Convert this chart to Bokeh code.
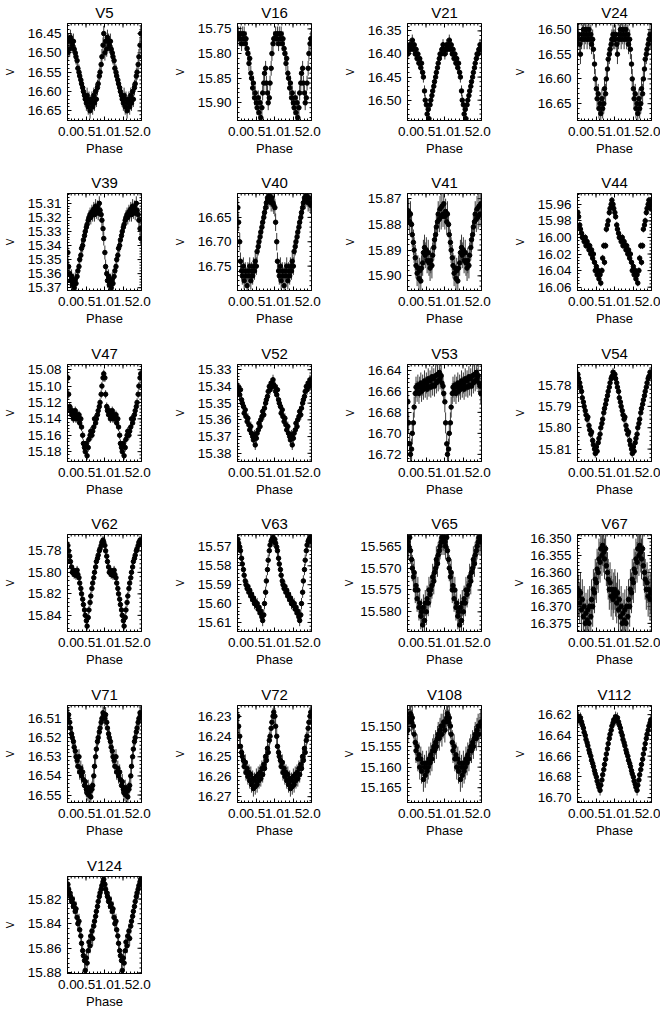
import math
from bokeh.plotting import figure
from bokeh.models import Range1d, FixedTicker, LinearAxis, PrintfTickFormatter
from bokeh.layouts import column, row
from bokeh.embed import file_html
from bokeh.resources import INLINE

# ---------------- data ----------------
phase = [0.01, 0.03, 0.06, 0.08, 0.11, 0.13, 0.16, 0.18, 0.21, 0.23,
         0.26, 0.28, 0.31, 0.33, 0.36, 0.38, 0.41, 0.43, 0.46, 0.48,
         0.51, 0.53, 0.56, 0.58, 0.61, 0.63, 0.66, 0.68, 0.71, 0.73,
         0.76, 0.78, 0.81, 0.83, 0.86, 0.88, 0.91, 0.93, 0.96, 0.98]

names = ["V5", "V16", "V21", "V24", "V39", "V40", "V41", "V44", "V47", "V52", "V53",
         "V54", "V62", "V63", "V65", "V67", "V71", "V72", "V108", "V112", "V124"]

mag_V5 = [16.50, 16.47, 16.49, 16.46, 16.47, 16.48, 16.47, 16.49, 16.50, 16.51,
          16.52, 16.54, 16.55, 16.56, 16.57, 16.58, 16.59, 16.60, 16.61, 16.62,
          16.63, 16.61, 16.64, 16.62, 16.65, 16.63, 16.62, 16.64, 16.61, 16.63,
          16.60, 16.62, 16.59, 16.58, 16.56, 16.55, 16.53, 16.51, 16.48, 16.45]
mag_V16 = [15.77, 15.76, 15.77, 15.76, 15.78, 15.76, 15.77, 15.76, 15.78, 15.77,
           15.79, 15.80, 15.82, 15.81, 15.84, 15.85, 15.87, 15.86, 15.89, 15.88,
           15.90, 15.91, 15.89, 15.92, 15.90, 15.93, 15.91, 15.88, 15.86, 15.84,
           15.83, 15.86, 15.88, 15.90, 15.89, 15.86, 15.83, 15.80, 15.78, 15.77]
mag_V21 = [16.40, 16.39, 16.38, 16.39, 16.38, 16.37, 16.39, 16.38, 16.40, 16.39,
           16.41, 16.40, 16.42, 16.41, 16.43, 16.42, 16.44, 16.45, 16.48, 16.50,
           16.51, 16.53, 16.52, 16.54, 16.51, 16.50, 16.49, 16.48, 16.47, 16.46,
           16.45, 16.44, 16.43, 16.42, 16.41, 16.40, 16.40, 16.39, 16.38, 16.39]
mag_V24 = [16.52, 16.51, 16.53, 16.55, 16.52, 16.51, 16.50, 16.52, 16.51, 16.50,
           16.52, 16.51, 16.50, 16.52, 16.51, 16.53, 16.52, 16.54, 16.57, 16.60,
           16.62, 16.64, 16.63, 16.66, 16.65, 16.67, 16.64, 16.66, 16.65, 16.62,
           16.63, 16.60, 16.58, 16.56, 16.55, 16.54, 16.53, 16.52, 16.51, 16.52]
mag_V39 = [15.345, 15.355, 15.360, 15.365, 15.362, 15.368, 15.365, 15.370, 15.364, 15.367,
           15.362, 15.358, 15.355, 15.350, 15.347, 15.342, 15.340, 15.336, 15.333, 15.330,
           15.327, 15.325, 15.322, 15.320, 15.318, 15.320, 15.316, 15.318, 15.314, 15.318,
           15.312, 15.316, 15.313, 15.317, 15.310, 15.315, 15.318, 15.322, 15.328, 15.335]
mag_V40 = [16.63, 16.66, 16.70, 16.74, 16.76, 16.77, 16.75, 16.78, 16.76, 16.77,
           16.79, 16.76, 16.77, 16.75, 16.78, 16.76, 16.77, 16.75, 16.76, 16.74,
           16.75, 16.72, 16.71, 16.70, 16.69, 16.68, 16.67, 16.66, 16.65, 16.64,
           16.63, 16.62, 16.61, 16.615, 16.605, 16.61, 16.62, 16.61, 16.62, 16.625]
mag_V41 = [15.877, 15.875, 15.879, 15.876, 15.880, 15.884, 15.887, 15.890, 15.893, 15.896,
           15.899, 15.897, 15.901, 15.898, 15.902, 15.897, 15.895, 15.891, 15.889, 15.892,
           15.890, 15.894, 15.891, 15.895, 15.897, 15.894, 15.896, 15.892, 15.889, 15.886,
           15.884, 15.881, 15.879, 15.876, 15.878, 15.874, 15.877, 15.873, 15.876, 15.872]
mag_V44 = [15.970, 15.975, 15.985, 15.990, 15.995, 16.000, 16.000, 16.005, 16.000, 16.010,
           16.005, 16.010, 16.015, 16.010, 16.020, 16.015, 16.025, 16.020, 16.030, 16.040,
           16.035, 16.045, 16.040, 16.050, 16.045, 16.055, 16.040, 16.025, 16.010, 16.030,
           16.010, 15.990, 15.985, 15.980, 15.970, 15.965, 15.960, 15.955, 15.960, 15.965]
mag_V47 = [15.090, 15.110, 15.125, 15.130, 15.135, 15.130, 15.140, 15.135, 15.130, 15.140,
           15.135, 15.140, 15.135, 15.145, 15.140, 15.150, 15.160, 15.170, 15.175, 15.180,
           15.170, 15.185, 15.175, 15.165, 15.160, 15.155, 15.160, 15.155, 15.150, 15.140,
           15.145, 15.140, 15.135, 15.130, 15.125, 15.120, 15.110, 15.100, 15.090, 15.085]
mag_V52 = [15.340, 15.343, 15.345, 15.342, 15.348, 15.350, 15.352, 15.356, 15.354, 15.358,
           15.361, 15.359, 15.363, 15.366, 15.364, 15.368, 15.370, 15.372, 15.369, 15.375,
           15.371, 15.368, 15.366, 15.362, 15.364, 15.360, 15.358, 15.355, 15.357, 15.353,
           15.350, 15.348, 15.346, 15.343, 15.340, 15.342, 15.338, 15.340, 15.336, 15.339]
mag_V53 = [16.670, 16.690, 16.710, 16.720, 16.715, 16.700, 16.690, 16.675, 16.662, 16.656,
           16.660, 16.654, 16.662, 16.656, 16.652, 16.660, 16.654, 16.658, 16.650, 16.656,
           16.652, 16.658, 16.648, 16.655, 16.650, 16.656, 16.646, 16.654, 16.648, 16.655,
           16.645, 16.652, 16.644, 16.650, 16.642, 16.648, 16.645, 16.652, 16.655, 16.662]
mag_V54 = [15.775, 15.777, 15.779, 15.781, 15.783, 15.786, 15.788, 15.790, 15.792, 15.794,
           15.796, 15.795, 15.799, 15.801, 15.803, 15.802, 15.806, 15.808, 15.810, 15.812,
           15.809, 15.811, 15.807, 15.805, 15.803, 15.800, 15.798, 15.796, 15.793, 15.791,
           15.789, 15.787, 15.785, 15.783, 15.781, 15.779, 15.777, 15.776, 15.774, 15.775]
mag_V62 = [15.775, 15.780, 15.785, 15.790, 15.795, 15.800, 15.798, 15.802, 15.800, 15.803,
           15.798, 15.802, 15.805, 15.810, 15.815, 15.820, 15.825, 15.830, 15.835, 15.840,
           15.845, 15.850, 15.842, 15.835, 15.828, 15.822, 15.815, 15.810, 15.805, 15.800,
           15.795, 15.790, 15.787, 15.784, 15.780, 15.778, 15.775, 15.772, 15.770, 15.772]
mag_V63 = [15.566, 15.568, 15.570, 15.572, 15.576, 15.579, 15.582, 15.585, 15.588, 15.590,
           15.592, 15.591, 15.594, 15.593, 15.596, 15.595, 15.598, 15.597, 15.600, 15.599,
           15.601, 15.600, 15.603, 15.602, 15.605, 15.604, 15.607, 15.609, 15.606, 15.600,
           15.594, 15.588, 15.582, 15.577, 15.572, 15.569, 15.567, 15.566, 15.565, 15.567]
mag_V65 = [15.564, 15.565, 15.563, 15.566, 15.568, 15.570, 15.572, 15.571, 15.575, 15.574,
           15.577, 15.575, 15.579, 15.578, 15.581, 15.580, 15.583, 15.579, 15.582, 15.578,
           15.580, 15.577, 15.578, 15.575, 15.576, 15.575, 15.574, 15.572, 15.573, 15.571,
           15.570, 15.568, 15.569, 15.567, 15.566, 15.565, 15.564, 15.563, 15.564, 15.563]
mag_V67 = [16.365, 16.367, 16.369, 16.366, 16.371, 16.368, 16.373, 16.370, 16.375, 16.372,
           16.374, 16.371, 16.375, 16.370, 16.373, 16.368, 16.370, 16.365, 16.366, 16.362,
           16.363, 16.359, 16.360, 16.356, 16.357, 16.353, 16.355, 16.352, 16.354, 16.356,
           16.353, 16.358, 16.360, 16.362, 16.365, 16.363, 16.367, 16.365, 16.368, 16.366]
mag_V71 = [16.510, 16.508, 16.512, 16.515, 16.518, 16.520, 16.522, 16.525, 16.527, 16.530,
           16.532, 16.535, 16.530, 16.538, 16.536, 16.540, 16.538, 16.542, 16.545, 16.543,
           16.547, 16.549, 16.546, 16.550, 16.548, 16.551, 16.547, 16.545, 16.540, 16.535,
           16.530, 16.526, 16.522, 16.520, 16.517, 16.515, 16.512, 16.510, 16.507, 16.508]
mag_V72 = [16.230, 16.235, 16.240, 16.245, 16.248, 16.250, 16.252, 16.255, 16.253, 16.258,
           16.256, 16.260, 16.258, 16.262, 16.259, 16.264, 16.261, 16.266, 16.262, 16.265,
           16.260, 16.264, 16.259, 16.262, 16.258, 16.261, 16.256, 16.259, 16.254, 16.256,
           16.250, 16.252, 16.246, 16.248, 16.242, 16.240, 16.236, 16.233, 16.230, 16.228]
mag_V108 = [15.151, 15.149, 15.148, 15.147, 15.149, 15.148, 15.150, 15.152, 15.154, 15.156,
            15.155, 15.158, 15.157, 15.160, 15.158, 15.161, 15.159, 15.163, 15.160, 15.162,
            15.159, 15.161, 15.160, 15.158, 15.159, 15.157, 15.158, 15.156, 15.155, 15.156,
            15.154, 15.155, 15.153, 15.152, 15.153, 15.151, 15.150, 15.152, 15.150, 15.149]
mag_V112 = [16.626, 16.622, 16.625, 16.623, 16.627, 16.630, 16.633, 16.637, 16.640, 16.644,
            16.647, 16.650, 16.654, 16.657, 16.660, 16.664, 16.667, 16.670, 16.674, 16.677,
            16.680, 16.684, 16.687, 16.690, 16.693, 16.688, 16.683, 16.678, 16.673, 16.668,
            16.663, 16.658, 16.653, 16.648, 16.643, 16.639, 16.635, 16.631, 16.628, 16.625]
mag_V124 = [15.808, 15.812, 15.815, 15.818, 15.822, 15.820, 15.826, 15.824, 15.830, 15.828,
            15.835, 15.840, 15.838, 15.845, 15.850, 15.856, 15.862, 15.866, 15.870, 15.878,
            15.868, 15.872, 15.862, 15.855, 15.858, 15.850, 15.846, 15.852, 15.842, 15.838,
            15.834, 15.830, 15.826, 15.822, 15.818, 15.815, 15.812, 15.809, 15.806, 15.804]

mags = [mag_V5, mag_V16, mag_V21, mag_V24, mag_V39, mag_V40, mag_V41, mag_V44, mag_V47,
        mag_V52, mag_V53, mag_V54, mag_V62, mag_V63, mag_V65, mag_V67, mag_V71, mag_V72,
        mag_V108, mag_V112, mag_V124]

errors = [0.020, 0.015, 0.012, 0.020, 0.005, 0.018, 0.005, 0.004, 0.005, 0.003, 0.010,
          0.002, 0.004, 0.003, 0.003, 0.006, 0.004, 0.004, 0.003, 0.005, 0.006]

# y range: (top/brightest, bottom/faintest)
y_top = [16.424, 15.739, 16.334, 16.488, 15.303, 16.601, 15.868, 15.947, 15.0737, 15.3269, 16.6344,
         15.7704, 15.7648, 15.5634, 15.5623, 16.3488, 16.5032, 16.2247, 15.145, 16.6112, 15.8017]
y_bot = [16.675, 15.936, 16.544, 16.684, 15.372, 16.800, 15.9057, 16.064, 15.192, 15.3849, 16.7268,
         15.8158, 15.855, 15.6148, 15.5845, 16.3774, 16.5539, 16.2729, 15.1686, 16.7047, 15.8805]

y_tick_labels = [
    ["16.45", "16.50", "16.55", "16.60", "16.65"],
    ["15.75", "15.80", "15.85", "15.90"],
    ["16.35", "16.40", "16.45", "16.50"],
    ["16.50", "16.55", "16.60", "16.65"],
    ["15.31", "15.32", "15.33", "15.34", "15.35", "15.36", "15.37"],
    ["16.65", "16.70", "16.75"],
    ["15.87", "15.88", "15.89", "15.90"],
    ["15.96", "15.98", "16.00", "16.02", "16.04", "16.06"],
    ["15.08", "15.10", "15.12", "15.14", "15.16", "15.18"],
    ["15.33", "15.34", "15.35", "15.36", "15.37", "15.38"],
    ["16.64", "16.66", "16.68", "16.70", "16.72"],
    ["15.78", "15.79", "15.80", "15.81"],
    ["15.78", "15.80", "15.82", "15.84"],
    ["15.57", "15.58", "15.59", "15.60", "15.61"],
    ["15.565", "15.570", "15.575", "15.580"],
    ["16.350", "16.355", "16.360", "16.365", "16.370", "16.375"],
    ["16.51", "16.52", "16.53", "16.54", "16.55"],
    ["16.23", "16.24", "16.25", "16.26", "16.27"],
    ["15.150", "15.155", "15.160", "15.165"],
    ["16.62", "16.64", "16.66", "16.68", "16.70"],
    ["15.82", "15.84", "15.86", "15.88"],
]

x_ticks = [0.0, 0.5, 1.0, 1.5, 2.0]

# ---------------- styling ----------------
FONT = "Liberation Sans"
TICK_FS = 13.5
FRAME_W = 74
FRAME_H = 99
TOP_B = 21
ROW_H = [170, 171, 170, 171, 171, 160]


def style_axis(ax):
    ax.axis_line_color = "black"
    ax.axis_line_width = 1
    ax.major_tick_in = 4
    ax.major_tick_out = 0
    ax.minor_tick_in = 2
    ax.minor_tick_out = 0
    ax.major_tick_line_color = "black"
    ax.minor_tick_line_color = "black"
    ax.major_label_text_font = FONT
    ax.major_label_text_color = "black"
    ax.major_label_text_font_size = "%gpx" % TICK_FS
    ax.major_label_standoff = 6
    ax.axis_label_text_font = FONT
    ax.axis_label_text_font_style = "normal"
    ax.axis_label_text_color = "black"


def minor_list(ticks, lo, hi):
    step = (ticks[1] - ticks[0]) / 5.0
    start = ticks[0] - 10 * step
    out = []
    k = 0
    while start + k * step <= hi + 1e-9:
        v = start + k * step
        if v >= lo - 1e-9:
            out.append(round(v, 6))
        k += 1
    return out


def label_width(s):
    return sum((0.278 if ch == "." else 0.556) * TICK_FS for ch in s)


def make_panel(i, r, c):
    last_col = (c == 3)
    h = ROW_H[r]
    left = 67
    right = 9 if last_col else 29
    w = left + FRAME_W + right
    bottom = h - TOP_B - FRAME_H
    p = figure(width=w, height=h, output_backend="svg", toolbar_location=None,
               x_range=Range1d(0, 2), y_range=Range1d(y_bot[i], y_top[i]),
               x_axis_location=None, y_axis_location=None,
               min_border_left=left, min_border_right=right,
               min_border_top=TOP_B, min_border_bottom=bottom)
    p.grid.visible = False
    p.outline_line_color = "black"
    p.outline_line_width = 1
    p.background_fill_color = "white"
    p.border_fill_color = "white"

    labels = y_tick_labels[i]
    yt = [float(s) for s in labels]
    dec = len(labels[0].split(".")[1])
    lo = min(y_top[i], y_bot[i])
    hi = max(y_top[i], y_bot[i])
    y_minor = minor_list(yt, lo, hi)
    x_minor = minor_list(x_ticks, 0, 2)

    xb = LinearAxis(ticker=FixedTicker(ticks=x_ticks, minor_ticks=x_minor),
                    formatter=PrintfTickFormatter(format="%.1f"))
    style_axis(xb)
    xb.axis_label = "Phase"
    xb.axis_label_text_font_size = "13px"
    xb.axis_label_standoff = 2
    p.add_layout(xb, "below")

    yl = LinearAxis(ticker=FixedTicker(ticks=yt, minor_ticks=y_minor),
                    formatter=PrintfTickFormatter(format="%%.%df" % dec))
    style_axis(yl)
    yl.axis_label = "V"
    yl.axis_label_text_font_size = "10px"
    wmax = max(label_width(s) for s in labels)
    yl.axis_label_standoff = int(round(max(1.0, 43.0 - wmax)))
    p.add_layout(yl, "left")

    # title as the label of an empty top axis
    ta = LinearAxis(ticker=FixedTicker(ticks=[]))
    ta.axis_line_color = None
    ta.major_tick_line_color = None
    ta.minor_tick_line_color = None
    ta.major_label_standoff = 0
    ta.axis_label = names[i]
    ta.axis_label_text_font = FONT
    ta.axis_label_text_font_style = "normal"
    ta.axis_label_text_font_size = "15px"
    ta.axis_label_text_color = "black"
    ta.axis_label_standoff = 3
    p.add_layout(ta, "above")

    # inward ticks on the top and right frame edges
    for vals, ln in ((x_ticks, 4), (x_minor, 2)):
        p.ray(x=vals, y=[y_top[i]] * len(vals), length=ln, length_units="screen",
              angle=-math.pi / 2, line_color="black", line_width=1)
        p.ray(x=vals, y=[y_top[i]] * len(vals), length=ln, length_units="screen",
              angle=math.pi / 2, line_color="black", line_width=1)
    for vals, ln in ((yt, 4), (y_minor, 2)):
        p.ray(x=[2.0] * len(vals), y=vals, length=ln, length_units="screen",
              angle=math.pi, line_color="black", line_width=1)

    xs = phase + [v + 1.0 for v in phase]
    ys = mags[i] + mags[i]
    e = errors[i]
    p.segment(x0=xs, y0=[v - e for v in ys], x1=xs, y1=[v + e for v in ys],
              line_color="#3a3a3a", line_width=1)
    p.scatter(x=xs, y=ys, size=4.5, fill_color="black", line_color="black")
    return p


rows = []
for r in range(6):
    figs = []
    for c in range(4):
        i = r * 4 + c
        if i < len(names):
            figs.append(make_panel(i, r, c))
    rows.append(row(*figs))

layout = column(*rows)
open("out.html", "w").write(file_html(layout, INLINE))
